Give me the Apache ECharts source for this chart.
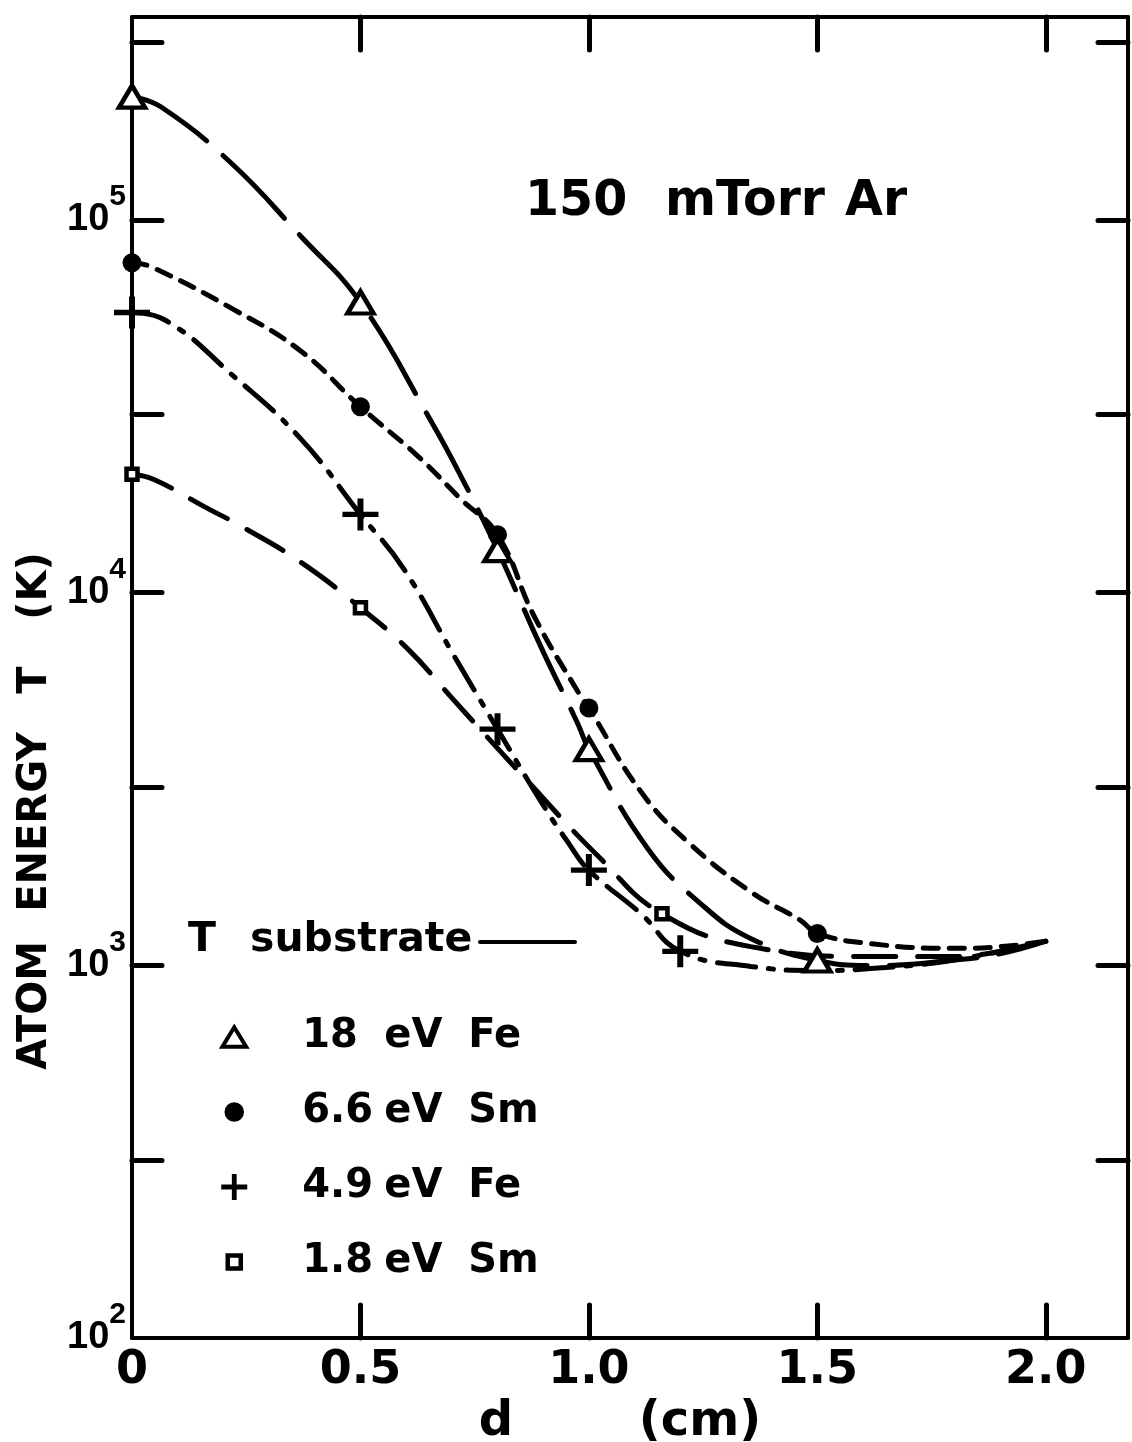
<!DOCTYPE html>
<html>
<head>
<meta charset="utf-8">
<script src="https://cdn.jsdelivr.net/npm/echarts@6/dist/echarts.min.js"></script>
<style>
html,body{margin:0;padding:0;background:#fff;}
#chart{width:1132px;height:1442px;}
</style>
</head>
<body>
<div id="chart"></div>
<script>
// ---- data (d in cm, T in K) ----
const seriesNames = ['18 eV Fe', '6.6 eV Sm', '4.9 eV Fe', '1.8 eV Sm'];

// measured points
const feHighX = [0, 0.5, 0.8, 1.0, 1.5];
const feHighT = [214000, 60000, 13000, 3800, 1030];
const smHighX = [0, 0.5, 0.8, 1.0, 1.5];
const smHighT = [76700, 31500, 14300, 4900, 1217];
const feLowX = [0, 0.5, 0.8, 1.0, 1.2];
const feLowT = [56400, 16200, 4300, 1800, 1090];
const smLowX = [0, 0.5, 1.16];
const smLowT = [20750, 9100, 1374];

// hand-drawn guide curves
const feHighCurveX = [0, 0.063, 0.217, 0.370, 0.5, 0.659, 0.720, 0.8, 0.895, 0.976, 1.0, 1.129, 1.245, 1.354, 1.5, 1.617, 1.792, 1.902, 2.0];
const feHighCurveT = [214000, 201000, 142000, 90200, 60000, 28200, 20500, 13000, 7150, 4440, 3800, 2055, 1462, 1180, 1030, 998, 1030, 1075, 1160];
const smHighCurveX = [0, 0.042, 0.223, 0.370, 0.5, 0.626, 0.720, 0.8, 0.880, 0.982, 1.0, 1.114, 1.217, 1.354, 1.464, 1.5, 1.617, 1.792, 1.902, 2.0];
const smHighCurveT = [76700, 74800, 57400, 44400, 31500, 23200, 17800, 14300, 8650, 5270, 4900, 2920, 2140, 1575, 1318, 1217, 1143, 1110, 1122, 1160];
const feLowCurveX = [0, 0.070, 0.223, 0.370, 0.5, 0.595, 0.705, 0.8, 0.895, 0.954, 1.0, 1.114, 1.2, 1.354, 1.505, 1.617, 1.792, 2.0];
const feLowCurveT = [56400, 54000, 38000, 25800, 16200, 11560, 6760, 4300, 2750, 2140, 1800, 1375, 1090, 993, 968, 980, 1030, 1160];
const smLowCurveX = [0, 0.048, 0.158, 0.239, 0.370, 0.5, 0.604, 0.698, 0.851, 1.026, 1.16, 1.354, 1.617, 1.792, 2.0];
const smLowCurveT = [20750, 20100, 17000, 15060, 12050, 9100, 7050, 5250, 3265, 1930, 1374, 1122, 1055, 1055, 1160];

// axes
const xMin = 0, xMax = 2.18;
const yMin = 100, yMax = 350000;
const xLabelValues = [0, 0.5, 1.0, 1.5, 2.0];
const xTickValues = [0.5, 1.0, 1.5, 2.0];
const yLabelValues = [100, 1000, 10000, 100000];
const yTickValues = [300, 1000, 3000, 10000, 30000, 100000, 300000];

const annotation = ['150', 'mTorr', 'Ar'];
const substrateLabel = ['T', 'substrate'];
const yTitle = ['ATOM', 'ENERGY', 'T', '(K)'];
const xTitle = ['d', '(cm)'];

// ---- chart ----
const FONT = 'DejaVu Sans';
const pairs = (xs, ys) => xs.map((x, i) => [x, ys[i]]);
const tok = (size, extra) => Object.assign({fontFamily: FONT, fontWeight: 'bold', fontSize: size, color: '#000', align: 'left'}, extra || {});

const axisLine = {show: true, onZero: false, lineStyle: {color: '#000', width: 4}};
const tickStyle = {color: '#000', width: 5, cap: 'round'};

const plusPath = 'path://M10,0h4v10h10v4h-10v10h-4v-10h-10v-4h10z';

function curve(xs, ys, dash) {
  return {
    type: 'line', data: pairs(xs, ys), showSymbol: false, symbol: 'none',
    smooth: 0.45, silent: true, z: 2,
    lineStyle: {color: '#000', width: 5, type: dash, cap: 'round', opacity: 1}
  };
}

const chart = echarts.init(document.getElementById('chart'));
chart.setOption({
  backgroundColor: '#fff',
  animation: false,
  grid: {left: 132, right: 4, top: 17, bottom: 104, containLabel: false, outerBoundsMode: 'none'},
  xAxis: [{
    type: 'value', min: xMin, max: xMax, position: 'bottom',
    axisLine: axisLine, splitLine: {show: false},
    axisTick: {show: true, inside: true, length: 33, lineStyle: tickStyle, customValues: xTickValues},
    axisLabel: {show: true, customValues: xLabelValues, margin: 10,
      formatter: v => v === 0 ? '0' : v.toFixed(1),
      fontFamily: FONT, fontWeight: 'bold', fontSize: 46, color: '#000'},
    name: '{a|' + xTitle[0] + '}{b|' + xTitle[1] + '}',
    nameLocation: 'middle', nameGap: 47,
    nameTextStyle: {padding: [0, 20, 0, 0], rich: {a: tok(48, {width: 160}), b: tok(48)}}
  }, {
    type: 'value', min: xMin, max: xMax, position: 'top',
    axisLine: axisLine, splitLine: {show: false},
    axisTick: {show: true, inside: true, length: 33, lineStyle: tickStyle, customValues: xTickValues},
    axisLabel: {show: false}
  }],
  yAxis: [{
    type: 'log', min: yMin, max: yMax, position: 'left',
    axisLine: axisLine, splitLine: {show: false},
    axisTick: {show: true, inside: true, length: 30, lineStyle: tickStyle, customValues: yTickValues},
    axisLabel: {show: true, customValues: yLabelValues, margin: 6,
      formatter: v => '{b|10}{s|' + Math.round(Math.log10(v)) + '}',
      rich: {b: tok(38, {fontFamily: 'Liberation Sans'}), s: tok(30, {fontFamily: 'Liberation Sans', padding: [0, 0, 46, 0]})}},
    name: '{a|' + yTitle[0] + '}{b|' + yTitle[1] + '}{c|' + yTitle[2] + '}{d|' + yTitle[3] + '}',
    nameLocation: 'middle', nameGap: 76, nameRotate: 90, nameMoveOverlap: false,
    nameTextStyle: {padding: [0, 267, 0, 0],
      rich: {a: tok(40, {width: 158}), b: tok(40, {width: 218}), c: tok(40, {width: 74}), d: tok(40)}}
  }, {
    type: 'log', min: yMin, max: yMax, position: 'right',
    axisLine: axisLine, splitLine: {show: false},
    axisTick: {show: true, inside: true, length: 30, lineStyle: tickStyle, customValues: yTickValues},
    axisLabel: {show: false}
  }],
  legend: {
    orient: 'vertical', left: 219, top: 1017, padding: 0,
    itemWidth: 26, itemHeight: 26, itemGap: 35, selectedMode: false,
    formatter: name => { const p = name.split(' '); return '{a|' + p[0] + '}{b|' + p[1] + '}{c|' + p[2] + '}'; },
    textStyle: {padding: [0, 0, 0, 50],
      rich: {a: tok(40, {width: 82, lineHeight: 40}), b: tok(40, {width: 84, lineHeight: 40}), c: tok(40, {lineHeight: 40})}},
    data: [
      {name: seriesNames[0], icon: 'path://M0,0M24,24M12,3L23,21L1,21Z', itemStyle: {color: '#fff', borderColor: '#000', borderWidth: 4, opacity: 1}},
      {name: seriesNames[1], icon: 'path://M0,0M24,24M12,3A9,9,0,1,1,11.99,3Z', itemStyle: {color: '#000', borderWidth: 0, opacity: 1}},
      {name: seriesNames[2], icon: 'path://M0,0M24,24M10,0h4.5v10h10v4.5h-10v10h-4.5v-10h-10v-4.5h10z', itemStyle: {color: '#000', borderWidth: 0, opacity: 1}},
      {name: seriesNames[3], icon: 'path://M0,0M24,24M6,6h12v12h-12z', itemStyle: {color: '#fff', borderColor: '#000', borderWidth: 4.5, opacity: 1}}
    ]
  },
  graphic: [
    {type: 'text', left: 525, top: 178, silent: true,
      style: {text: '{a|' + annotation[0] + '}{b|' + annotation[1] + '}{c|' + annotation[2] + '}',
        rich: {a: tok(49, {width: 140}), b: tok(49, {width: 180}), c: tok(49)}}},
    {type: 'text', left: 188, top: 920, silent: true,
      style: {text: '{a|' + substrateLabel[0] + '}{b|' + substrateLabel[1] + '}',
        rich: {a: tok(41, {width: 62}), b: tok(41)}}},
    {type: 'line', silent: true, shape: {x1: 480, y1: 942, x2: 575, y2: 942},
      style: {stroke: '#000', lineWidth: 4, lineCap: 'round'}}
  ],
  series: [
    curve(feHighCurveX, feHighCurveT, [88, 22]),
    curve(smHighCurveX, smHighCurveT, [15, 11]),
    curve(feLowCurveX, feLowCurveT, [38, 13, 5, 13]),
    curve(smLowCurveX, smLowCurveT, [42, 22]),
    {type: 'scatter', name: seriesNames[0], data: pairs(feHighX, feHighT), z: 5,
      symbol: 'triangle', symbolSize: [26, 22], itemStyle: {color: '#fff', borderColor: '#000', borderWidth: 4.5, opacity: 1}},
    {type: 'scatter', name: seriesNames[1], data: pairs(smHighX, smHighT), z: 5,
      symbol: 'circle', symbolSize: 19, itemStyle: {color: '#000', opacity: 1}},
    {type: 'scatter', name: seriesNames[2], data: pairs(feLowX, feLowT), z: 5,
      symbol: plusPath, symbolSize: [36, 32], itemStyle: {color: '#000', opacity: 1}},
    {type: 'scatter', name: seriesNames[3], data: pairs(smLowX, smLowT), z: 5,
      symbol: 'rect', symbolSize: 11, itemStyle: {color: '#fff', borderColor: '#000', borderWidth: 4.5, opacity: 1}}
  ]
});
</script>
</body>
</html>
